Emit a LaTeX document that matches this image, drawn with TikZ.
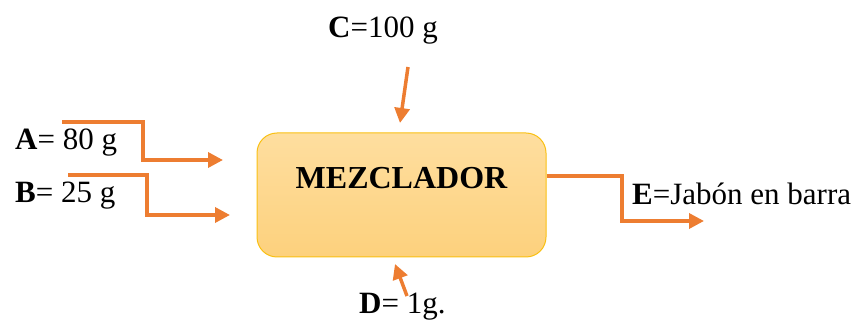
\documentclass[tikz,border=0pt]{standalone}
\usepackage{fontspec}
\setmainfont{Liberation Serif}
\usetikzlibrary{arrows.meta}
\definecolor{flow}{HTML}{ED7D31}
\definecolor{boxtop}{HTML}{FEDE9F}
\definecolor{boxbot}{HTML}{FDD17D}
\definecolor{boxline}{HTML}{F9C013}
\begin{document}
\begin{tikzpicture}[x=1pt,y=-1pt,
  lbl/.style={anchor=base west,inner sep=0pt,font=\fontsize{31}{36}\selectfont},
  flowline/.style={draw=flow,line width=3.5pt,-{Triangle[length=15pt,width=15pt]}},
  mixer/.style={draw=boxline,line width=1pt,rounded corners=20pt,top color=boxtop,bottom color=boxbot,minimum width=289pt,minimum height=124pt,inner sep=0pt}]
\useasboundingbox (0,0) rectangle (860,320);
% labels
\node[lbl] (la) at (15,150) {\textbf{A}= 80 g};
\node[lbl] (lb) at (15,203) {\textbf{B}= 25 g};
\node[lbl] (lc) at (328,38) {\textbf{C}=100 g};
\node[lbl] (ld) at (359,314) {\textbf{D}= 1g.};
\node[lbl] (le) at (632,205) {\textbf{E}=Jabón en barra};
% mixer
\node[mixer,label={[yshift=17pt,font=\fontsize{32}{36}\selectfont\bfseries]center:MEZCLADOR}] (box) at (401.5,195) {};
% coordinates
\coordinate (a0) at (62,122);
\coordinate (a1) at (223,160);
\coordinate (b0) at (68,175);
\coordinate (b1) at (230,215);
\coordinate (c0) at (408,67);
\coordinate (c1) at (400,123);
\coordinate (d0) at (407,296);
\coordinate (d1) at (395,264);
\coordinate (e1) at (704,221);
% connectors
\draw[flowline] (a0) -- (143,122) |- (a1);
\draw[flowline] (b0) -- (147,175) |- (b1);
\draw[flowline] (c0) -- (c1);
\draw[flowline] (d0) -- (d1);
\draw[flowline] ([yshift=19pt]box.east) -- (622,176) |- (e1);
\end{tikzpicture}
\end{document}
